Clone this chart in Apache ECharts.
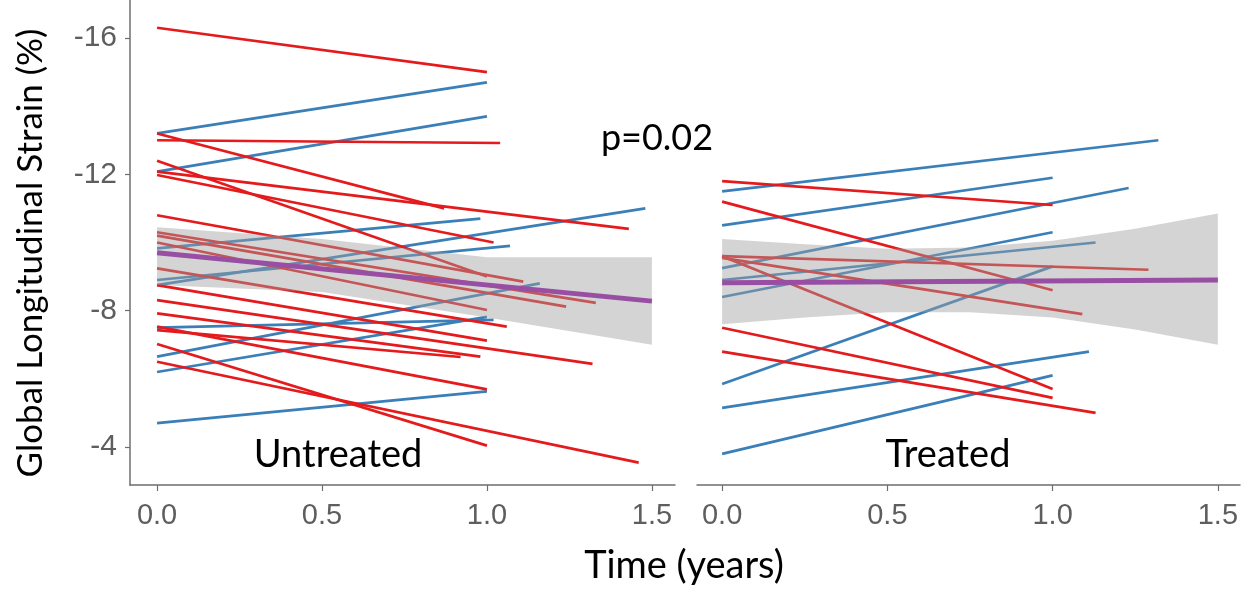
<!DOCTYPE html>
<html>
<head>
<meta charset="utf-8">
<script src="https://cdn.jsdelivr.net/npm/echarts@6/dist/echarts.min.js"></script>
<style>
  html, body { margin: 0; padding: 0; background: #fff; }
  #chart { width: 1260px; height: 589px; }
</style>
</head>
<body>
<div id="chart"></div>
<script>
// tick labels
const ticksX = [0, 0.5, 1, 1.5]
const ticksY = [-16, -12, -8, -4]

// Untreated, red lines (strain at t=0, time of follow-up, strain at follow-up)
const untreatedRedStart = [-16.3, -13.2, -13.0, -12.4, -12.08, -11.98, -10.8, -10.3, -10.2, -10.0, -9.24, -8.75, -8.31, -7.92, -7.43, -7.53, -7.02, -6.5]
const untreatedRedEndT = [1.0, 0.87, 1.04, 1.0, 1.43, 1.02, 1.11, 1.33, 1.24, 1.0, 1.06, 1.0, 1.32, 0.98, 0.92, 1.0, 1.0, 1.46]
const untreatedRedEnd = [-15.0, -11.0, -12.92, -9.0, -10.4, -10.0, -8.85, -8.23, -8.12, -8.02, -7.53, -7.12, -6.44, -6.65, -6.64, -5.69, -4.04, -3.54]

// Untreated, blue lines
const untreatedBlueStart = [-13.2, -12.08, -9.83, -8.75, -8.9, -6.65, -6.2, -7.5, -4.7]
const untreatedBlueEndT = [1.0, 1.0, 0.98, 1.48, 1.07, 1.16, 1.0, 1.02, 1.0]
const untreatedBlueEnd = [-14.7, -13.7, -10.7, -11.0, -9.9, -8.8, -7.82, -7.73, -5.63]

// Treated, red lines
const treatedRedStart = [-11.8, -11.2, -9.6, -9.55, -9.6, -7.5, -6.8]
const treatedRedEndT = [1.0, 1.0, 1.29, 1.09, 1.0, 1.0, 1.13]
const treatedRedEnd = [-11.1, -8.6, -9.2, -7.9, -5.7, -5.44, -5.0]

// Treated, blue lines
const treatedBlueStart = [-11.5, -10.5, -9.25, -8.4, -8.9, -5.85, -5.15, -3.8]
const treatedBlueEndT = [1.32, 1.0, 1.23, 1.0, 1.13, 1.0, 1.11, 1.0]
const treatedBlueEnd = [-13.0, -11.9, -11.6, -10.3, -10.0, -9.3, -6.8, -6.1]

// Group fits (start / end at t=1.5) and confidence bands
const untreatedFit = [-9.7, -8.28]
const treatedFit = [-8.82, -8.9]
const untreatedBandT = [0, 0.5, 1.0, 1.5]
const untreatedBandUpper = [-10.45, -10.1, -9.57, -9.57]
const untreatedBandLower = [-8.75, -8.55, -7.8, -7.0]
const treatedBandT = [0, 0.25, 0.5, 0.75, 1.0, 1.25, 1.5]
const treatedBandUpper = [-10.1, -9.95, -9.82, -9.85, -10.05, -10.4, -10.85]
const treatedBandLower = [-7.6, -7.8, -7.95, -7.95, -7.8, -7.45, -7.0]

const RED = '#e41a1c'
const BLUE = '#3a7fb8'
const PURPLE = '#984ea3'
const AXIS = '#6e6e6e'
const LABEL = '#5e5e5e'
const TITLE_FONT = 'Lato, "Open Sans", sans-serif'
const TICK_FONT = '"Liberation Sans", Arial, sans-serif'

const segs = (start, endT, end) =>
  start.map((s, i) => ({ coords: [[0, s], [endT[i], end[i]]] }))

const linesSeries = (idx, data, color) => ({
  type: 'lines',
  coordinateSystem: 'cartesian2d',
  xAxisIndex: idx,
  yAxisIndex: idx,
  polyline: false,
  silent: true,
  z: 2,
  lineStyle: { color: color, width: 2.7, opacity: 1 },
  data: data
})

// grey confidence band, drawn over the individual lines
const bandSeries = (idx, ts, upper, lower) => ({
  type: 'custom',
  xAxisIndex: idx,
  yAxisIndex: idx,
  z: 3,
  silent: true,
  data: [[ts[0], upper[0]]],
  renderItem: (params, api) => {
    const top = ts.map((t, i) => api.coord([t, upper[i]]))
    const bot = ts.map((t, i) => api.coord([t, lower[i]])).reverse()
    return {
      type: 'polygon',
      shape: { points: top.concat(bot) },
      style: { fill: 'rgba(160,160,160,0.45)' }
    }
  }
})

const fitSeries = (idx, fit) => ({
  type: 'line',
  xAxisIndex: idx,
  yAxisIndex: idx,
  z: 4,
  symbol: 'none',
  silent: true,
  lineStyle: { color: PURPLE, width: 5 },
  data: [[0, fit[0]], [1.5, fit[1]]]
})

const xAxis = (idx, min, max) => ({
  type: 'value',
  gridIndex: idx,
  min: min,
  max: max,
  splitLine: { show: false },
  axisLine: { show: true, onZero: false, lineStyle: { color: AXIS, width: 1.5 } },
  axisTick: { show: true, customValues: ticksX, length: 6, lineStyle: { color: AXIS, width: 1.2 } },
  axisLabel: {
    customValues: ticksX,
    formatter: v => v.toFixed(1),
    fontFamily: TICK_FONT,
    fontSize: 29,
    color: LABEL,
    margin: 16
  }
})

const yAxis = (idx, show) => ({
  type: 'value',
  gridIndex: idx,
  inverse: true,
  min: -17.115,
  max: -2.885,
  splitLine: { show: false },
  axisLine: { show: show, onZero: false, lineStyle: { color: AXIS, width: 1.5 } },
  axisTick: { show: show, customValues: ticksY, length: 5, lineStyle: { color: AXIS, width: 1.2 } },
  axisLabel: {
    show: show,
    customValues: ticksY,
    fontFamily: TICK_FONT,
    fontSize: 30,
    color: LABEL,
    margin: 13
  }
})

const chart = echarts.init(document.getElementById('chart'), null, { renderer: 'canvas' })

chart.setOption({
  animation: false,
  backgroundColor: '#fff',
  grid: [
    { left: 130, top: 0, width: 545, height: 485 },
    { left: 697, top: 0, width: 543, height: 485 }
  ],
  xAxis: [xAxis(0, -0.082, 1.57), xAxis(1, -0.076, 1.567)],
  yAxis: [yAxis(0, true), yAxis(1, false)],
  graphic: [
    {
      type: 'text', x: 657, y: 138,
      style: { text: 'p=0.02', font: '36px ' + TITLE_FONT, fill: '#000', align: 'center', verticalAlign: 'middle' }
    },
    {
      type: 'text', x: 338, y: 455,
      style: { text: 'Untreated', font: '38px ' + TITLE_FONT, fill: '#000', align: 'center', verticalAlign: 'middle' }
    },
    {
      type: 'text', x: 948, y: 455,
      style: { text: 'Treated', font: '38px ' + TITLE_FONT, fill: '#000', align: 'center', verticalAlign: 'middle' }
    },
    {
      type: 'text', x: 684, y: 566,
      style: { text: 'Time (years)', font: '38px ' + TITLE_FONT, fill: '#000', align: 'center', verticalAlign: 'middle' }
    },
    {
      type: 'text', x: 31, y: 253, rotation: Math.PI / 2,
      style: { text: 'Global Longitudinal Strain (%)', font: '35px ' + TITLE_FONT, fill: '#000', align: 'center', verticalAlign: 'middle' }
    }
  ],
  series: [
    linesSeries(0, segs(untreatedBlueStart, untreatedBlueEndT, untreatedBlueEnd), BLUE),
    linesSeries(0, segs(untreatedRedStart, untreatedRedEndT, untreatedRedEnd), RED),
    bandSeries(0, untreatedBandT, untreatedBandUpper, untreatedBandLower),
    fitSeries(0, untreatedFit),
    linesSeries(1, segs(treatedBlueStart, treatedBlueEndT, treatedBlueEnd), BLUE),
    linesSeries(1, segs(treatedRedStart, treatedRedEndT, treatedRedEnd), RED),
    bandSeries(1, treatedBandT, treatedBandUpper, treatedBandLower),
    fitSeries(1, treatedFit)
  ]
})
</script>
</body>
</html>
